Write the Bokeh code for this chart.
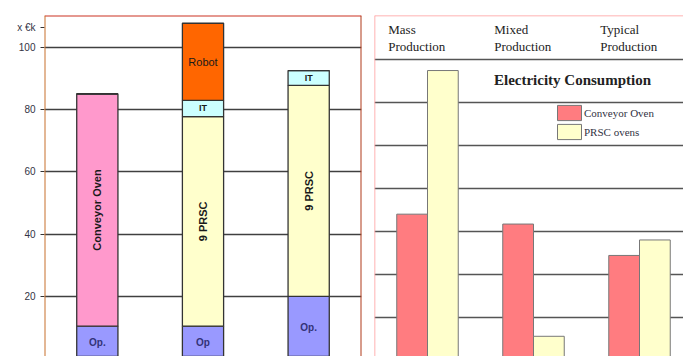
import numpy as np
from bokeh.plotting import figure
from bokeh.layouts import row
from bokeh.models import (ColumnDataSource, Range1d, FixedTicker, Span, Label,
                          Legend, LegendItem)
from bokeh.core.properties import value
from bokeh.embed import file_html
from bokeh.resources import INLINE

# ---- investment cost per line setup (x €k), stacked by component ----
setups = ["Conveyor oven line", "PRSC line with robot", "PRSC line manual"]
op_cost = [10.4, 10.4, 20.0]
oven_cost = [74.7, 0.0, 0.0]
prsc_cost = [0.0, 67.4, 67.8]
it_cost = [0.0, 5.2, 4.8]
robot_cost = [0.0, 24.8, 0.0]
cost_ticks = [0, 20, 40, 60, 80, 100]
unit_label = "x €k"
op_names = ["Op.", "Op", "Op."]

# ---- electricity consumption per production type ----
prod_top = ["Mass", "Mixed", "Typical"]
prod_bottom = ["Production", "Production", "Production"]
conveyor_kwh = [3.41, 3.18, 2.45]
prsc_kwh = [6.75, 0.57, 2.81]
kwh_grid = [1, 2, 3, 4, 5, 6, 7]

SANS = "Liberation Sans"
SERIF = "Liberation Serif"

# ================= left: stacked cost bars =================
stackers = ["op", "oven", "prsc", "it", "robot"]
fills = ["#9999ff", "#ff99cc", "#ffffcc", "#ccffff", "#ff6600"]
xs = [i + 0.5 for i in range(len(setups))]
cost = dict(op=op_cost, oven=oven_cost, prsc=prsc_cost, it=it_cost, robot=robot_cost)
src = ColumnDataSource(dict(x=xs, **cost))

Y_TOP = 110.3
p1 = figure(width=368, height=356, x_range=Range1d(0, 3), y_range=Range1d(0.64, Y_TOP),
            output_backend="svg", toolbar_location=None,
            min_border_left=44, min_border_right=7, min_border_top=15, min_border_bottom=0)
p1.outline_line_color = None
p1.xaxis.visible = False
p1.xgrid.visible = False
p1.ygrid.ticker = FixedTicker(ticks=cost_ticks[1:])
p1.ygrid.grid_line_color = "#404040"
p1.ygrid.grid_line_width = 1.3

# unit caption sits on the axis just above the top tick
unit_pos = 106.4
p1.yaxis.ticker = FixedTicker(ticks=cost_ticks + [unit_pos])
p1.yaxis.major_label_overrides = {unit_pos: unit_label}
p1.yaxis.axis_line_color = None
p1.yaxis.major_tick_out = 4
p1.yaxis.major_tick_in = 0
p1.yaxis.major_tick_line_color = "#333333"
p1.yaxis.minor_tick_line_color = None
p1.yaxis.major_label_standoff = 5
p1.yaxis.major_label_text_font = SANS
p1.yaxis.major_label_text_font_size = "10px"
p1.yaxis.major_label_text_color = "#333344"

p1.vbar_stack(stackers, x="x", width=0.39, source=src, fill_color=fills,
              line_color="#333333", line_width=1.3)

# segment labels placed at the middle of each segment
seg_names = {"op": op_names, "oven": ["Conveyor Oven"] * 3, "prsc": ["9 PRSC"] * 3,
             "it": ["IT"] * 3, "robot": ["Robot"] * 3}
bold_rows = dict(x=[], y=[], text=[], angle=[], size=[], color=[])
plain_rows = dict(x=[], y=[], text=[], angle=[], size=[], color=[])
for i, xc in enumerate(xs):
    base = 0.0
    for s in stackers:
        v = cost[s][i]
        if v > 0:
            rows = plain_rows if s == "robot" else bold_rows
            rows["x"].append(xc)
            rows["y"].append(base + v / 2)
            rows["text"].append(seg_names[s][i])
            rows["angle"].append(np.pi / 2 if s in ("oven", "prsc") else 0.0)
            rows["size"].append({"op": "10px", "it": "9px"}.get(s, "11px"))
            rows["color"].append("#333377" if s == "op" else "#1a1a1a")
        base += v

p1.text(x="x", y="y", text="text", angle="angle", text_font_size="size",
        text_color="color", source=ColumnDataSource(bold_rows),
        text_font=value(SANS), text_font_style="bold",
        text_align="center", text_baseline="middle")
p1.text(x="x", y="y", text="text", angle="angle", text_font_size="size",
        text_color="color", source=ColumnDataSource(plain_rows),
        text_font=value(SANS), text_align="center", text_baseline="middle")

# frame edges
p1.add_layout(Span(location=Y_TOP, dimension="width", line_color="#cc3322", line_width=2))
p1.add_layout(Span(location=0, dimension="height", line_color="#c8702c", line_width=2))
p1.add_layout(Span(location=3, dimension="height", line_color="#b03a1a", line_width=2))

# ================= right: electricity consumption =================
gx = np.arange(len(prod_top)) + 0.5
K_TOP = 8.03
p2 = figure(width=315, height=356, x_range=Range1d(0, 2.915), y_range=Range1d(0.10, K_TOP),
            output_backend="svg", toolbar_location=None,
            min_border_left=6, min_border_right=0, min_border_top=11, min_border_bottom=0)
p2.outline_line_color = None
p2.xaxis.visible = False
p2.yaxis.visible = False
p2.xgrid.visible = False
p2.ygrid.ticker = FixedTicker(ticks=kwh_grid)
p2.ygrid.grid_line_color = "#555555"
p2.ygrid.grid_line_width = 1.3

r_conv = p2.vbar(x=gx - 0.145, top=conveyor_kwh, width=0.29,
                 fill_color="#ff7c80", line_color="#777777", line_width=1)
r_prsc = p2.vbar(x=gx + 0.145, top=prsc_kwh, width=0.29,
                 fill_color="#ffffcc", line_color="#777777", line_width=1)

hsrc = ColumnDataSource(dict(x=np.arange(len(prod_top)) + 0.13,
                             top=prod_top, bottom=prod_bottom))
p2.text(x="x", y=7.71, text="top", source=hsrc, text_font=value(SERIF),
        text_font_size="13px", text_color="#222222", text_baseline="middle")
p2.text(x="x", y=7.30, text="bottom", source=hsrc, text_font=value(SERIF),
        text_font_size="13px", text_color="#222222", text_baseline="middle")

p2.add_layout(Label(x=1.868, y=6.52, text="Electricity Consumption", text_align="center",
                    text_baseline="middle", text_font=SERIF, text_font_style="bold",
                    text_font_size="15px", text_color="#222222"))

legend = Legend(items=[LegendItem(label="Conveyor Oven", renderers=[r_conv]),
                       LegendItem(label="PRSC ovens", renderers=[r_prsc])],
                location=(180, 215), orientation="vertical",
                border_line_color=None, background_fill_alpha=0,
                padding=0, margin=0, spacing=0,
                glyph_width=30, glyph_height=19, label_height=19, label_standoff=0,
                label_text_font=SERIF, label_text_font_size="11px",
                label_text_color="#333344")
p2.add_layout(legend)

p2.add_layout(Span(location=K_TOP, dimension="width", line_color="#ff9999", line_width=1.5))
p2.add_layout(Span(location=0, dimension="height", line_color="#ff9999", line_width=1.5))

layout = row(p1, p2, spacing=0)
open("out.html", "w").write(file_html(layout, INLINE))
